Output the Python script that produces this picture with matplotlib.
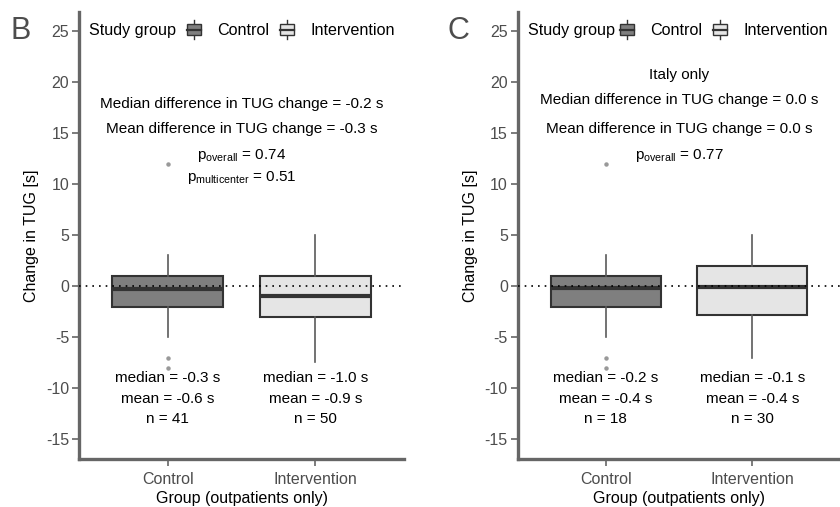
import matplotlib
matplotlib.use("Agg")
import matplotlib.pyplot as plt
from matplotlib.patches import Rectangle
from matplotlib.lines import Line2D
from matplotlib.legend_handler import HandlerBase

plt.rcParams['font.family'] = ['Liberation Sans', 'DejaVu Sans']
plt.rcParams['mathtext.fontset'] = 'custom'
plt.rcParams['mathtext.rm'] = 'Liberation Sans'
plt.rcParams['mathtext.it'] = 'Liberation Sans'
plt.rcParams['axes.unicode_minus'] = False

# ---------------- data ----------------
groups = ["Control", "Intervention"]
group_colors = ["#7f7f7f", "#e5e5e5"]
y_ticks = [-15, -10, -5, 0, 5, 10, 15, 20, 25]

# panel B (all outpatients)
b_q1 = [-2.0, -3.0]
b_med = [-0.3, -1.0]
b_q3 = [1.0, 1.0]
b_wlo = [-5.0, -7.4]
b_whi = [3.0, 5.0]
b_fliers = [[12.0, -7.0, -8.0], []]
b_labels = [["median = -0.3 s", "mean = -0.6 s", "n = 41"],
            ["median = -1.0 s", "mean = -0.9 s", "n = 50"]]
b_header = ["Median difference in TUG change = -0.2 s",
            "Mean difference in TUG change = -0.3 s",
            r"p$_{\mathrm{overall}}$ = 0.74",
            r"p$_{\mathrm{multicenter}}$ = 0.51"]
b_header_y = [17.8, 15.35, 12.8, 10.65]

# panel C (Italy only)
c_q1 = [-2.0, -2.8]
c_med = [-0.2, -0.1]
c_q3 = [1.0, 2.0]
c_wlo = [-5.0, -7.0]
c_whi = [3.0, 5.0]
c_fliers = [[12.0, -7.0, -8.0], []]
c_labels = [["median = -0.2 s", "mean = -0.4 s", "n = 18"],
            ["median = -0.1 s", "mean = -0.4 s", "n = 30"]]
c_header = ["Italy only",
            "Median difference in TUG change = 0.0 s",
            "Mean difference in TUG change = 0.0 s",
            r"p$_{\mathrm{overall}}$ = 0.77"]
c_header_y = [20.65, 18.2, 15.35, 12.8]

stat_label_y = [-9.0, -11.05, -13.0]

YLIM = (-16.92, 26.86)
FS = 11.5
FS_TXT = 11.0
FS_LEG = 11.6
AXCOL = "#666666"
TICKCOL = "#4d4d4d"
EDGE = "#333333"


class BoxHandler(HandlerBase):
    def create_artists(self, legend, orig_handle, xdescent, ydescent,
                       width, height, fontsize, trans):
        x0, y0 = -xdescent, -ydescent
        w, h = width, height
        cx = x0 + w / 2
        whisk = Line2D([cx, cx], [y0 - 0.3 * h, y0 + 1.3 * h],
                       color=EDGE, lw=1.0, transform=trans)
        rect = Rectangle((x0, y0), w, h, facecolor=orig_handle.get_facecolor(),
                         edgecolor=EDGE, lw=1.0, transform=trans)
        med = Line2D([x0, x0 + w], [y0 + h / 2, y0 + h / 2],
                     color=EDGE, lw=1.6, transform=trans)
        return [whisk, rect, med]


def draw_panel(ax, q1, med, q3, wlo, whi, fliers, labels, header, header_y,
               legend_x, text_x):
    stats = []
    for i in range(len(groups)):
        stats.append(dict(med=med[i], q1=q1[i], q3=q3[i], whislo=wlo[i],
                          whishi=whi[i], fliers=fliers[i], label=groups[i]))
    bp = ax.bxp(stats, positions=range(len(groups)), widths=0.75,
                patch_artist=True, showcaps=False,
                boxprops=dict(edgecolor=EDGE, linewidth=1.5),
                medianprops=dict(color=EDGE, linewidth=3.0),
                whiskerprops=dict(color="#5a5a5a", linewidth=1.2),
                flierprops=dict(marker='o', markersize=2.2, markerfacecolor="#999999",
                                markeredgecolor="#999999"))
    for patch, col in zip(bp['boxes'], group_colors):
        patch.set_facecolor(col)
    ax.axhline(0, color="black", linestyle=(0, (1, 3)), linewidth=1.2, zorder=5)

    ax.set_xlim(-0.6, 1.6)
    ax.set_ylim(*YLIM)
    ax.set_yticks(y_ticks)
    ax.set_yticklabels([str(t) for t in y_ticks])
    ax.set_xticks(range(len(groups)))
    ax.set_xticklabels(groups)
    for s in ["top", "right"]:
        ax.spines[s].set_visible(False)
    for s in ["left", "bottom"]:
        ax.spines[s].set_color(AXCOL)
        ax.spines[s].set_linewidth(2.4)
    ax.tick_params(axis='both', colors=AXCOL, labelcolor=TICKCOL, labelsize=FS,
                   length=5, width=1.2, pad=2)
    ax.tick_params(axis='x', pad=4.5)
    ax.set_ylabel("Change in TUG [s]", fontsize=FS, labelpad=5)
    ax.set_xlabel("Group (outpatients only)", fontsize=FS, labelpad=2.5)

    for i in range(len(groups)):
        for txt, yy in zip(labels[i], stat_label_y):
            ax.text(i, yy, txt, ha='center', va='center', fontsize=FS_TXT, color='black')
    for txt, yy in zip(header, header_y):
        ax.text(0.5, yy, txt, ha='center', va='center', fontsize=FS_TXT, color='black')

    ly = (25 - YLIM[0]) / (YLIM[1] - YLIM[0])
    ax.text(text_x, ly, "Study group", transform=ax.transAxes, ha='left',
            va='center', fontsize=FS_LEG)
    handles = [Rectangle((0, 0), 1, 1, facecolor=c) for c in group_colors]
    ax.legend(handles, groups, handler_map={Rectangle: BoxHandler()},
              loc='center left', bbox_to_anchor=(legend_x, ly), ncol=2,
              frameon=False, fontsize=FS_LEG, handlelength=0.87, handleheight=0.75,
              handletextpad=1.0, columnspacing=0.68, borderpad=0, borderaxespad=0)


fig = plt.figure(figsize=(8.4, 5.07), dpi=100)
axB = fig.add_axes([79 / 840, 48 / 507, 325 / 840, 447.3 / 507])
axC = fig.add_axes([517.5 / 840, 48 / 507, 323 / 840, 447.3 / 507])

draw_panel(axB, b_q1, b_med, b_q3, b_wlo, b_whi, b_fliers, b_labels,
           b_header, b_header_y, legend_x=0.332, text_x=0.03)
draw_panel(axC, c_q1, c_med, c_q3, c_wlo, c_whi, c_fliers, c_labels,
           c_header, c_header_y, legend_x=0.317, text_x=0.033)

fig.text(21 / 840, 1 - 31 / 507, "B", ha='center', va='center', fontsize=22, color="#4d4d4d")
fig.text(458 / 840, 1 - 31 / 507, "C", ha='center', va='center', fontsize=22, color="#4d4d4d")

fig.savefig("out.png", dpi=100)
